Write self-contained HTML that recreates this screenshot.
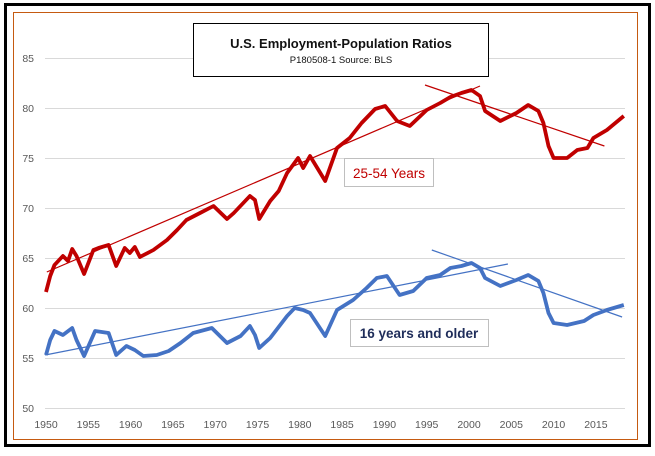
<!DOCTYPE html>
<html><head><meta charset="utf-8">
<style>
html,body{margin:0;padding:0;background:#fff;}
body{width:655px;height:451px;overflow:hidden;font-family:"Liberation Sans",sans-serif;}
</style></head>
<body>
<svg id="chart" width="655" height="451" viewBox="0 0 655 451" xmlns="http://www.w3.org/2000/svg">
<rect x="5.5" y="4.5" width="644" height="441" fill="none" stroke="#000" stroke-width="3"/>
<rect x="13.5" y="12.5" width="624" height="427" fill="none" stroke="#c55a11" stroke-width="1"/>
<g id="grid"></g>
<g id="yticks"></g>
<g id="xticks"></g>
<g id="series"></g>
<rect x="193.5" y="23.5" width="295" height="53" fill="#fff" stroke="#000" stroke-width="1"/>
<text x="341" y="48" text-anchor="middle" font-size="13" font-weight="bold" fill="#111">U.S. Employment-Population Ratios</text>
<text x="341" y="63" text-anchor="middle" font-size="9.5" fill="#111">P180508-1 Source: BLS</text>
<rect x="344.5" y="158.5" width="89" height="28" fill="#fff" stroke="#bfbfbf" stroke-width="1"/>
<text x="389" y="178" text-anchor="middle" font-size="13.5" fill="#c00000">25-54 Years</text>
<rect x="350.5" y="319.5" width="138" height="27" fill="#fff" stroke="#bfbfbf" stroke-width="1"/>
<text x="419" y="338" text-anchor="middle" font-size="13.5" font-weight="bold" fill="#1f2d5a">16 years and older</text>
</svg>
<script>
const yTicks=[50,55,60,65,70,75,80,85];
const xTicks=[1950,1955,1960,1965,1970,1975,1980,1985,1990,1995,2000,2005,2010,2015];
const primeYears=[1950.0,1950.5,1951.0,1952.0,1952.6,1953.1,1953.6,1954.5,1955.6,1956.2,1957.4,1958.3,1959.3,1959.9,1960.5,1961.1,1962.7,1964.3,1965.5,1966.6,1968.2,1969.8,1971.4,1972.2,1974.1,1974.7,1975.2,1976.5,1977.5,1978.5,1979.8,1980.4,1981.2,1983.0,1984.4,1985.9,1987.3,1988.9,1990.1,1991.5,1993.0,1995.0,1996.6,1997.8,1999.1,2000.3,2001.3,2001.9,2003.7,2005.6,2007.0,2008.2,2008.8,2009.4,2010.0,2011.6,2012.8,2014.0,2014.7,2016.3,2018.3];
const primeValues=[61.6,63.2,64.3,65.2,64.7,65.9,65.2,63.4,65.8,66.0,66.3,64.2,66.0,65.5,66.1,65.1,65.8,66.8,67.8,68.8,69.5,70.2,68.9,69.5,71.2,70.8,68.9,70.7,71.7,73.5,75.0,74.0,75.2,72.7,76.0,77.0,78.5,79.9,80.2,78.7,78.2,79.8,80.5,81.1,81.5,81.8,81.2,79.7,78.7,79.5,80.3,79.7,78.5,76.2,75.0,75.0,75.8,76.0,77.0,77.8,79.2];
const allYears=[1950.0,1950.5,1951.0,1952.0,1953.1,1953.6,1954.5,1955.8,1957.4,1958.3,1959.5,1960.5,1961.5,1963.1,1964.5,1965.9,1967.4,1969.6,1971.4,1973.0,1974.1,1974.7,1975.2,1976.5,1978.5,1979.4,1980.4,1981.2,1983.0,1984.4,1986.3,1987.9,1989.1,1990.3,1991.8,1993.4,1995.0,1996.6,1997.8,1999.1,2000.3,2001.3,2001.9,2003.7,2005.6,2007.0,2008.2,2008.8,2009.4,2010.0,2011.6,2013.6,2014.7,2016.3,2018.3];
const allValues=[55.3,56.8,57.7,57.3,58.0,56.8,55.2,57.7,57.5,55.3,56.2,55.8,55.2,55.3,55.7,56.5,57.5,58.0,56.5,57.2,58.2,57.3,56.0,57.0,59.2,60.0,59.8,59.5,57.2,59.8,60.8,62.0,63.0,63.2,61.3,61.7,63.0,63.3,64.0,64.2,64.5,64.0,63.0,62.2,62.8,63.3,62.7,61.5,59.5,58.5,58.3,58.7,59.3,59.8,60.3];
const primeTrend1=[[1950.1,63.6],[2001.3,82.2]];
const primeTrend2=[[1994.8,82.3],[2016.0,76.2]];
const allTrend1=[[1949.9,55.3],[2004.6,64.4]];
const allTrend2=[[1995.6,65.8],[2018.1,59.1]];

const NS='http://www.w3.org/2000/svg';
function xs(yr){return 46+(yr-1950)*8.46;}
function ys(v){return 408-(v-50)*10;}
const grid=document.getElementById('grid'),yt=document.getElementById('yticks'),xt=document.getElementById('xticks'),ser=document.getElementById('series');
yTicks.forEach(v=>{
  const l=document.createElementNS(NS,'line');
  
  
  l.setAttribute('x1',45);l.setAttribute('x2',625);l.setAttribute('y1',ys(v)+0.5);l.setAttribute('y2',ys(v)+0.5);
  l.setAttribute('stroke','#d9d9d9');l.setAttribute('stroke-width','1');
  grid.appendChild(l);
  const t=document.createElementNS(NS,'text');
  
  
  t.setAttribute('x',34);t.setAttribute('y',ys(v)+4);t.setAttribute('text-anchor','end');
  t.setAttribute('font-size','10.5');t.setAttribute('fill','#595959');t.textContent=v;
  yt.appendChild(t);
});
xTicks.forEach(yr=>{
  const t=document.createElementNS(NS,'text');
  
  
  t.setAttribute('x',xs(yr));t.setAttribute('y',428);t.setAttribute('text-anchor','middle');
  t.setAttribute('font-size','10.5');t.setAttribute('fill','#595959');t.textContent=yr;
  xt.appendChild(t);
});
function poly(years,vals,color,w,name){
  const p=document.createElementNS(NS,'polyline');
  
  
  p.setAttribute('points',years.map((y,i)=>xs(y).toFixed(1)+','+ys(vals[i]).toFixed(1)).join(' '));
  p.setAttribute('fill','none');p.setAttribute('stroke',color);p.setAttribute('stroke-width',w);
  p.setAttribute('stroke-linejoin','round');
  ser.appendChild(p);
}
poly(primeYears,primeValues,'#c00000',3.8,'series-25-54-years');
poly(allYears,allValues,'#4472c4',3.8,'series-16-and-older');
function trend(pts,color,name){
  poly(pts.map(p=>p[0]),pts.map(p=>p[1]),color,1.2,name);
}
trend(primeTrend1,'#c00000','trend-25-54-rising');
trend(primeTrend2,'#c00000','trend-25-54-falling');
trend(allTrend1,'#4472c4','trend-16-older-rising');
trend(allTrend2,'#4472c4','trend-16-older-falling');
</script>
</body></html>
